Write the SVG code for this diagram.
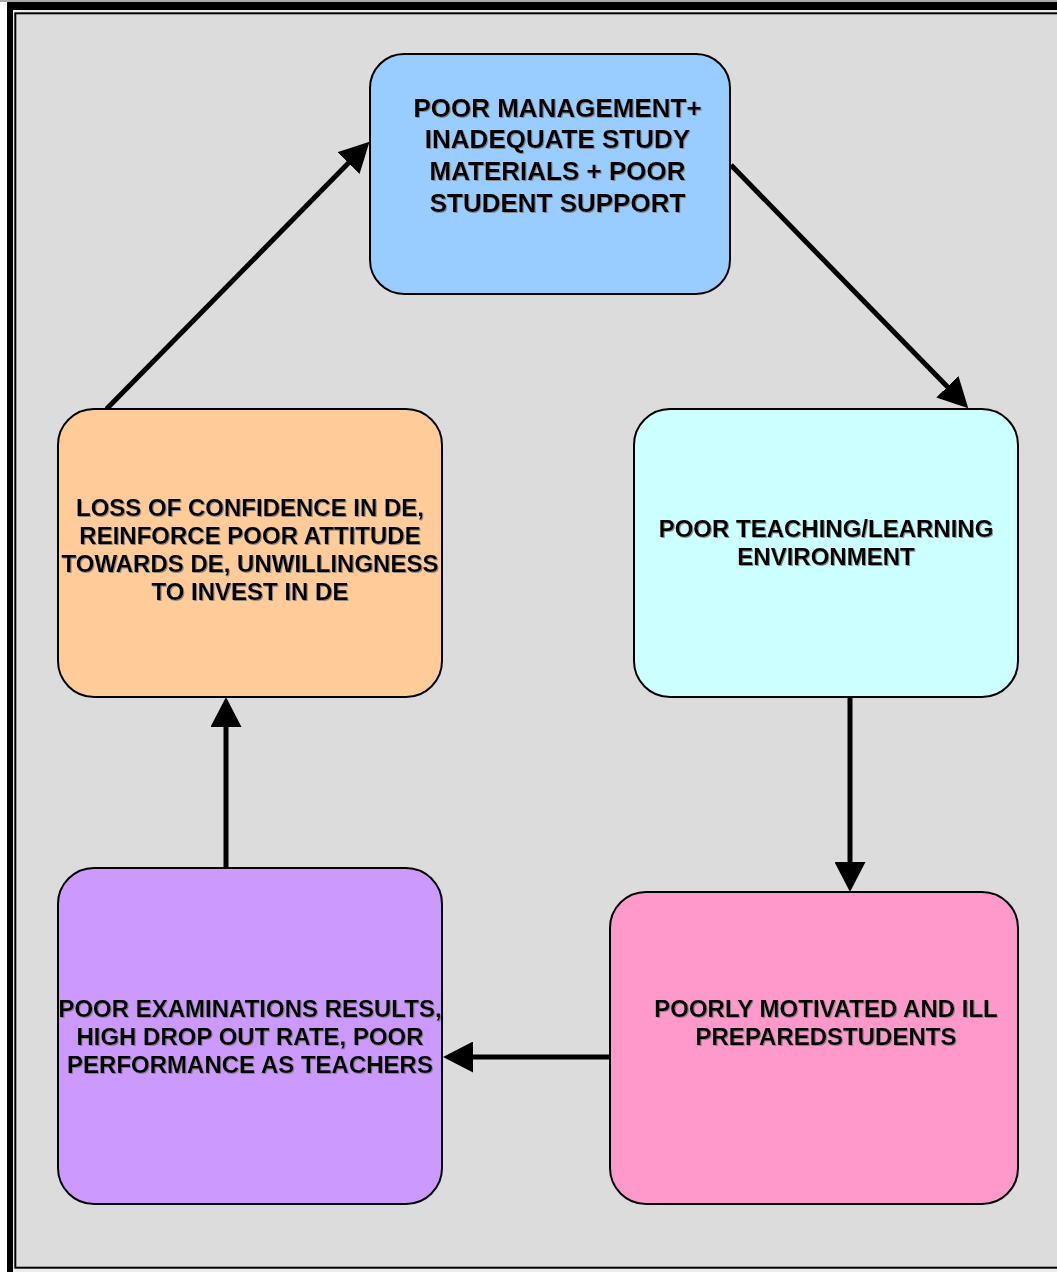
<svg xmlns="http://www.w3.org/2000/svg" width="1057" height="1272" viewBox="0 0 1057 1272">
<defs>
<style>
.box{stroke:#000;stroke-width:2}
.lbl{font-family:"Liberation Sans",Arial,sans-serif;font-weight:bold;fill:#000;text-anchor:middle;filter:url(#sh)}
.s24{font-size:24px}
.s26{font-size:26px}
.conn{stroke:#000;stroke-width:5;fill:none;marker-end:url(#ah)}
</style>
<filter id="sh" x="-5%" y="-20%" width="110%" height="140%">
<feDropShadow dx="1" dy="1" stdDeviation="0.4" flood-color="#777" flood-opacity="0.8"/>
</filter>
<marker id="ah" viewBox="0 0 30 31" markerUnits="userSpaceOnUse" markerWidth="30" markerHeight="31" refX="20" refY="15.5" orient="auto">
<path d="M0,0 L30,15.5 L0,31 z" fill="#000"/>
</marker>
</defs>
<rect x="0" y="0" width="1057" height="1272" fill="#fff"/>
<rect x="0" y="0" width="1057" height="2" fill="#aaa"/>
<rect x="7" y="2" width="1100" height="1300" fill="#000"/>
<rect x="13" y="10" width="1100" height="1300" fill="#ececec"/>
<rect x="15.3" y="13.3" width="1100" height="1254.4" fill="#dcdcdc" stroke="#000" stroke-width="2"/>

<g id="connectors">
<line class="conn" x1="106.5" y1="409" x2="362.5" y2="148.8"/>
<line class="conn" x1="731" y1="165" x2="961.3" y2="401.1"/>
<line class="conn" x1="850" y1="697" x2="850" y2="882"/>
<line class="conn" x1="610" y1="1057" x2="453" y2="1057"/>
<line class="conn" x1="226" y1="868" x2="226" y2="707"/>
</g>

<g id="node-management">
<rect class="box" x="370" y="54" width="360" height="240" rx="34" fill="#99ccff"/>
<text class="lbl s26" x="557.5" y="116.5">POOR MANAGEMENT+</text>
<text class="lbl s26" x="557.5" y="148.3">INADEQUATE STUDY</text>
<text class="lbl s26" x="557.5" y="180">MATERIALS + POOR</text>
<text class="lbl s26" x="557.5" y="212">STUDENT SUPPORT</text>
</g>

<g id="node-environment">
<rect class="box" x="634" y="409" width="384" height="288" rx="36" fill="#ccffff"/>
<text class="lbl s24" x="826" y="537">POOR TEACHING/LEARNING</text>
<text class="lbl s24" x="826" y="565">ENVIRONMENT</text>
</g>

<g id="node-students">
<rect class="box" x="610" y="892" width="408" height="312" rx="36" fill="#ff99cc"/>
<text class="lbl s24" x="826" y="1017">POORLY MOTIVATED AND ILL</text>
<text class="lbl s24" x="826" y="1045">PREPAREDSTUDENTS</text>
</g>

<g id="node-results">
<rect class="box" x="58" y="868" width="384" height="336" rx="36" fill="#cc99ff"/>
<text class="lbl s24" x="250" y="1017">POOR EXAMINATIONS RESULTS,</text>
<text class="lbl s24" x="250" y="1045">HIGH DROP OUT RATE, POOR</text>
<text class="lbl s24" x="250" y="1073">PERFORMANCE AS TEACHERS</text>
</g>

<g id="node-confidence">
<rect class="box" x="58" y="409" width="384" height="288" rx="36" fill="#ffcc99"/>
<text class="lbl s24" x="250" y="516">LOSS OF CONFIDENCE IN DE,</text>
<text class="lbl s24" x="250" y="544">REINFORCE POOR ATTITUDE</text>
<text class="lbl s24" x="250" y="571.5">TOWARDS DE, UNWILLINGNESS</text>
<text class="lbl s24" x="250" y="599.5">TO INVEST IN DE</text>
</g>
</svg>
